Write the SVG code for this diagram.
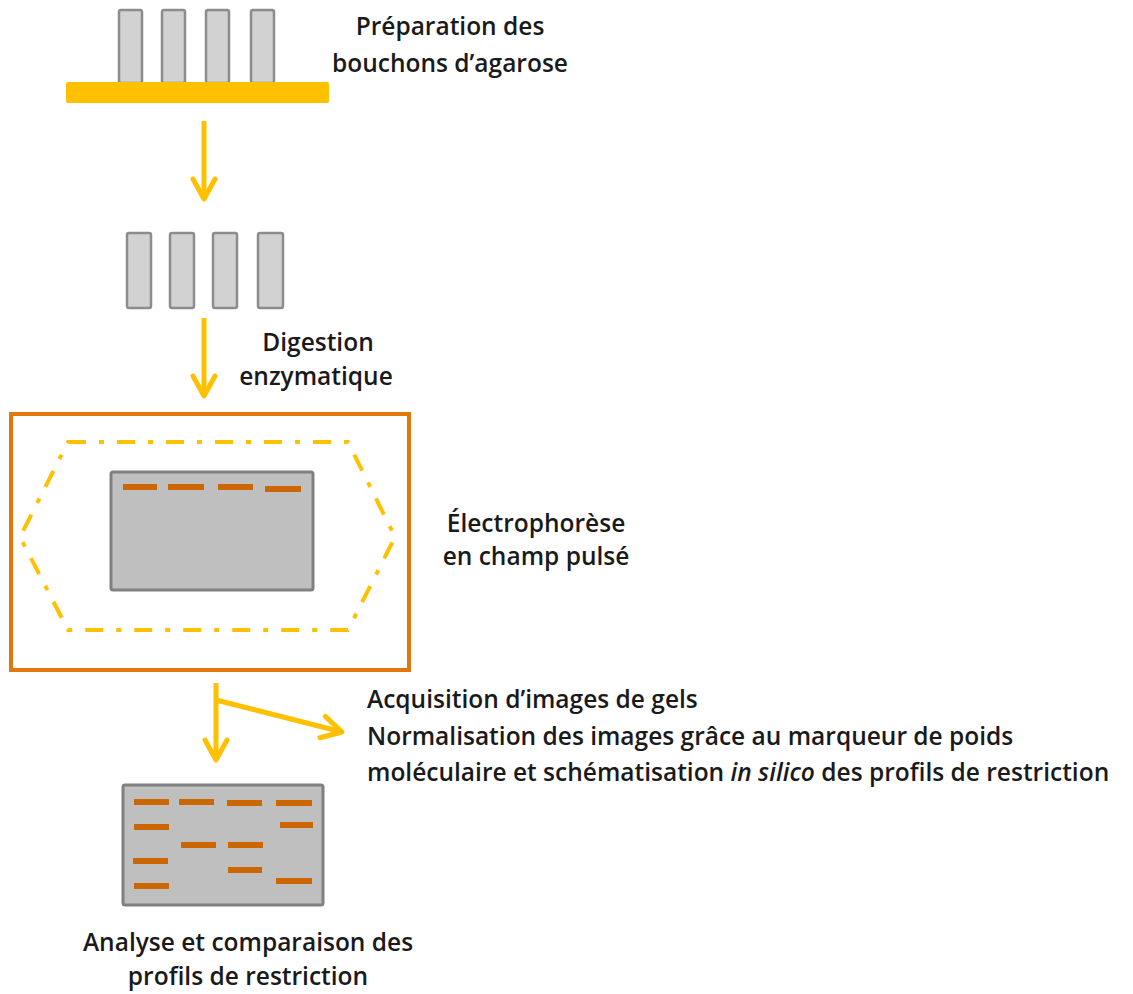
<svg xmlns="http://www.w3.org/2000/svg" width="1133" height="994" viewBox="0 0 1133 994">
<style>
.plug{fill:#D2D2D2;stroke:#8C8C8C;stroke-width:2.5}
.gel{fill:#BFBFBF;stroke:#808080;stroke-width:3}
.band{fill:#CC6600}
.arrow{fill:none;stroke:#FFC000;stroke-width:5}
.t{font-family:"Open Sans","DejaVu Sans",sans-serif;font-size:24.5px;font-weight:600;fill:#1A1A1A}
.m{text-anchor:middle}
</style>
<defs>
<marker id="chev" markerUnits="userSpaceOnUse" viewBox="-26 -16 30 32" refX="0" refY="0" markerWidth="30" markerHeight="32" orient="auto" overflow="visible">
<path d="M-20,-11 L0,0 L-20,11" fill="none" stroke="#FFC000" stroke-width="5" stroke-linejoin="round" stroke-linecap="round"/>
</marker>
</defs>
<rect width="1133" height="994" fill="#FFFFFF"/>

<g id="plugs-agarose">
<rect x="119" y="10" width="23" height="73" rx="2" class="plug"/>
<rect x="162" y="10" width="23" height="73" rx="2" class="plug"/>
<rect x="206" y="10" width="23" height="73" rx="2" class="plug"/>
<rect x="251" y="10" width="23" height="73" rx="2" class="plug"/>
<rect x="66" y="82" width="263" height="21" rx="2" fill="#FFC000"/>
</g>
<g id="label-preparation">
<text class="t m" x="450" y="35">Préparation des</text>
<text class="t m" x="450" y="72">bouchons d’agarose</text>
</g>

<g id="plugs-free">
<rect x="127" y="233" width="24" height="75" rx="2" class="plug"/>
<rect x="170" y="233" width="24" height="75" rx="2" class="plug"/>
<rect x="213" y="233" width="24" height="75" rx="2" class="plug"/>
<rect x="258" y="233" width="25" height="75" rx="2" class="plug"/>
</g>
<g id="label-digestion">
<text class="t m" x="318" y="351">Digestion</text>
<text class="t m" x="316" y="385">enzymatique</text>
</g>

<g id="electrophoresis">
<rect x="11" y="414" width="398" height="256" fill="none" stroke="#E2770E" stroke-width="4"/>
<polygon points="68,442 348,442 395,537 348,630 68,630 20,537" fill="none" stroke="#FFC000" stroke-width="4" stroke-dasharray="18 13 5 13"/>
<rect x="111" y="472" width="202" height="118" rx="2" class="gel"/>
<rect x="123" y="484" width="34" height="6" class="band"/>
<rect x="168" y="484" width="36" height="6" class="band"/>
<rect x="218" y="484" width="35" height="6" class="band"/>
<rect x="265" y="486" width="36" height="6" class="band"/>
</g>
<g id="label-electrophorese">
<text class="t m" x="536" y="532">Électrophorèse</text>
<text class="t m" x="536" y="565">en champ pulsé</text>
</g>

<g id="gel-analysis">
<rect x="123" y="785" width="200" height="120" rx="2" class="gel"/>
<rect x="134" y="799" width="35" height="6" class="band"/>
<rect x="134" y="824" width="35" height="6" class="band"/>
<rect x="133" y="858" width="35" height="6" class="band"/>
<rect x="134" y="883" width="35" height="6" class="band"/>
<rect x="179" y="799" width="35" height="6" class="band"/>
<rect x="181" y="842" width="35" height="6" class="band"/>
<rect x="227" y="800" width="35" height="6" class="band"/>
<rect x="228" y="842" width="35" height="6" class="band"/>
<rect x="228" y="867" width="34" height="6" class="band"/>
<rect x="276" y="800" width="36" height="6" class="band"/>
<rect x="280" y="822" width="33" height="6" class="band"/>
<rect x="276" y="878" width="36" height="6" class="band"/>
</g>
<g id="label-acquisition">
<text class="t" x="367" y="708">Acquisition d’images de gels</text>
<text class="t" x="367" y="745">Normalisation des images grâce au marqueur de poids</text>
<text class="t" x="367" y="781">moléculaire et schématisation <tspan font-style="italic">in silico</tspan> des profils de restriction</text>
</g>
<g id="label-analyse">
<text class="t m" x="248" y="951">Analyse et comparaison des</text>
<text class="t m" x="248" y="985">profils de restriction</text>
</g>

<g id="connectors">
<line x1="204" y1="121" x2="204" y2="199" class="arrow" marker-end="url(#chev)"/>
<line x1="204" y1="318" x2="204" y2="396" class="arrow" marker-end="url(#chev)"/>
<line x1="216" y1="683" x2="216" y2="760" class="arrow" marker-end="url(#chev)"/>
<line x1="216" y1="700" x2="342" y2="732" class="arrow" marker-end="url(#chev)"/>
</g>
</svg>
